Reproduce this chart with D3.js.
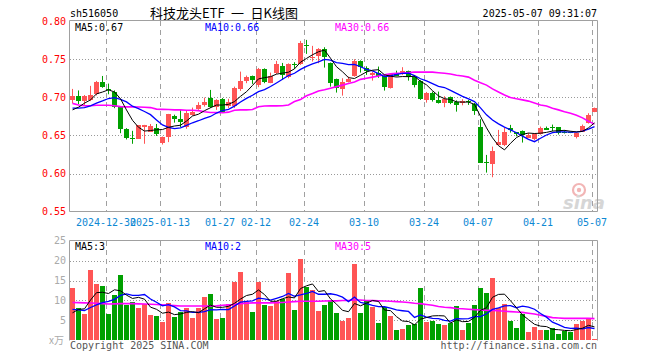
<!DOCTYPE html>
<html><head><meta charset="utf-8">
<script src="https://cdn.jsdelivr.net/npm/d3@7"></script>
<style>html,body{margin:0;padding:0;background:#fff;} svg{display:block}</style>
</head><body>
<svg id="c" width="660" height="360"></svg>
<script>
const dates = [
"2024-12-20","2024-12-23","2024-12-24","2024-12-25","2024-12-26","2024-12-27","2024-12-30","2024-12-31",
"2025-01-02","2025-01-03","2025-01-06","2025-01-07","2025-01-08","2025-01-09","2025-01-10","2025-01-13","2025-01-14","2025-01-15","2025-01-16","2025-01-17","2025-01-20","2025-01-21","2025-01-22","2025-01-23","2025-01-24","2025-01-27",
"2025-02-05","2025-02-06","2025-02-07","2025-02-10","2025-02-11","2025-02-12","2025-02-13","2025-02-14","2025-02-17","2025-02-18","2025-02-19","2025-02-20","2025-02-21","2025-02-24","2025-02-25","2025-02-26","2025-02-27","2025-02-28",
"2025-03-03","2025-03-04","2025-03-05","2025-03-06","2025-03-07","2025-03-10","2025-03-11","2025-03-12","2025-03-13","2025-03-14","2025-03-17","2025-03-18","2025-03-19","2025-03-20","2025-03-21","2025-03-24","2025-03-25","2025-03-26","2025-03-27","2025-03-28","2025-03-31",
"2025-04-01","2025-04-02","2025-04-03","2025-04-07","2025-04-08","2025-04-09","2025-04-10","2025-04-11","2025-04-14","2025-04-15","2025-04-16","2025-04-17","2025-04-18","2025-04-21","2025-04-22","2025-04-23","2025-04-24","2025-04-25","2025-04-28","2025-04-29","2025-04-30",
"2025-05-06","2025-05-07"];

const open = [0.696,0.702,0.695,0.6965,0.704,0.7205,0.7105,0.7075,0.687,0.658,0.647,0.6455,0.661,0.655,0.6594,0.6398,0.6484,0.6752,0.6717,0.6609,0.6769,0.6852,0.690,0.6996,0.687,0.6975,
0.6887,0.6887,0.7106,0.7215,0.728,0.7163,0.7373,0.7194,0.7317,0.7412,0.7272,0.7434,0.7434,0.7681,0.7515,0.7547,0.7635,0.7456,
0.7238,0.7106,0.7206,0.728,0.7478,0.7382,0.7294,0.7324,0.728,0.7128,0.7316,0.7324,0.7345,0.7272,0.7215,0.6966,0.7054,0.6966,0.6923,0.7009,0.6944,
0.692,0.695,0.6913,0.6615,0.6156,0.6122,0.6375,0.6375,0.6602,0.654,0.6559,0.6471,0.6454,0.6516,0.6594,0.6616,0.6607,0.655,0.6545,0.6476,0.655,0.6667,0.6808];
const high = [0.711,0.709,0.703,0.715,0.7215,0.728,0.718,0.709,0.687,0.6595,0.656,0.6634,0.6638,0.665,0.665,0.6485,0.6782,0.6772,0.6835,0.6822,0.6865,0.6936,0.6996,0.7097,0.6975,0.699,
0.698,0.714,0.7337,0.7285,0.7285,0.7385,0.738,0.7324,0.7478,0.7451,0.7445,0.7461,0.774,0.7753,0.7675,0.7645,0.7657,0.7456,
0.7245,0.725,0.7272,0.750,0.7485,0.7407,0.7337,0.7403,0.729,0.7317,0.735,0.7395,0.735,0.7285,0.7225,0.707,0.7075,0.7075,0.7014,0.701,0.696,
0.6975,0.6965,0.6925,0.6712,0.6244,0.6353,0.6572,0.6602,0.6638,0.6545,0.6565,0.6532,0.653,0.6616,0.6616,0.6642,0.661,0.657,0.655,0.6535,0.6642,0.6791,0.6865];
const low = [0.692,0.691,0.690,0.695,0.7025,0.7125,0.704,0.6857,0.6529,0.6447,0.639,0.6454,0.639,0.6545,0.6493,0.638,0.6412,0.6668,0.661,0.6587,0.676,0.6835,0.6878,0.686,0.6835,0.680,
0.686,0.686,0.7084,0.7185,0.7176,0.7133,0.7185,0.7185,0.7304,0.7228,0.725,0.7373,0.7425,0.757,0.7469,0.7447,0.739,0.714,
0.7062,0.7022,0.7195,0.727,0.7324,0.7294,0.7219,0.7255,0.7088,0.7115,0.7275,0.7294,0.7219,0.713,0.6966,0.693,0.6944,0.6918,0.687,0.691,0.6812,
0.6895,0.690,0.6769,0.6143,0.6012,0.5951,0.6371,0.636,0.6537,0.6488,0.6406,0.6465,0.6435,0.651,0.6585,0.6555,0.6512,0.6525,0.653,0.646,0.6545,0.6655,0.6805];
const close = [0.702,0.6945,0.702,0.7035,0.7205,0.714,0.709,0.6878,0.659,0.647,0.6462,0.6634,0.663,0.6625,0.6516,0.648,0.6782,0.6713,0.6677,0.6789,0.6812,0.690,0.6944,0.687,0.6966,0.6812,
0.6944,0.7127,0.7215,0.7268,0.7226,0.7373,0.7206,0.728,0.7434,0.7294,0.7434,0.7425,0.7718,0.7678,0.7535,0.7632,0.7534,0.7185,
0.7119,0.7206,0.7245,0.7478,0.7395,0.7342,0.7317,0.728,0.714,0.7307,0.7285,0.735,0.7272,0.7163,0.6979,0.7054,0.6966,0.693,0.6979,0.693,0.6895,
0.695,0.6935,0.6825,0.6143,0.6143,0.6296,0.6419,0.655,0.6572,0.652,0.6506,0.6506,0.652,0.6594,0.6572,0.6594,0.6529,0.6542,0.6537,0.6529,0.6625,0.6769,0.686];
const volume = [13.2,8.2,6.6,17.6,14.2,13.7,6.6,11.3,16.3,8.8,9.5,8.0,9.0,6.3,6.1,4.6,9.4,5.8,7.2,8.0,5.6,8.0,10.8,11.7,5.3,5.6,
9.2,14.6,17.1,9.7,7.2,14.6,8.8,8.6,9.9,10.3,16.8,7.6,20.3,13.4,12.6,7.3,8.8,9.8,
6.9,4.8,5.6,19.1,6.9,10.1,8.3,4.4,8.3,6.1,2.6,2.8,3.8,4.1,13.2,4.7,4.8,4.1,3.8,4.3,8.6,
2.6,4.4,8.8,13.2,11.9,15.7,8.0,9.1,4.9,3.2,6.6,2.1,3.3,2.6,2.6,3.1,1.7,2.4,2.2,4.1,4.8,5.3,0.4];
const priorCloses = [0.6945,0.694,0.680,0.686,0.685,0.677,0.6755,0.682,0.681];
const priorVolumes = [9.5,8.0,10.0,7.5,8.0,3.95,5.85,6.6,4.9];
const ma30 = [0.692,0.690,0.689,0.689,0.6895,0.6895,0.6895,0.689,0.6878,0.6875,0.6875,0.6872,0.687,0.6865,0.6845,0.6842,0.684,0.6835,0.6835,0.683,0.683,0.6825,0.681,0.680,0.680,0.6798,
0.6805,0.683,0.6835,0.6835,0.684,0.6875,0.6885,0.6887,0.6887,0.689,0.690,0.6944,0.697,0.702,0.705,0.7084,0.710,0.712,
0.714,0.716,0.718,0.720,0.7235,0.725,0.7265,0.728,0.7295,0.731,0.7316,0.7318,0.7325,0.733,0.733,0.733,0.733,0.7322,0.7315,0.7305,0.729,
0.728,0.7265,0.7225,0.719,0.716,0.711,0.707,0.703,0.6996,0.698,0.6966,0.695,0.6925,0.690,0.6885,0.6855,0.6835,0.681,0.679,0.6765,0.673,0.6685,0.6648];
const volMa30 = [9.5,9.45,9.4,9.35,9.3,9.2,9.1,9.15,9.2,9.2,9.2,9.15,9.1,9.05,9.0,8.9,8.8,8.7,8.6,8.6,8.6,8.6,8.6,8.6,8.65,8.8,
8.9,9.0,9.2,9.3,9.4,9.4,9.4,9.4,9.45,9.5,9.6,9.7,9.8,9.8,9.8,9.8,9.85,9.9,
9.9,10.0,10.0,10.1,10.1,10.0,9.95,9.9,9.85,9.8,9.7,9.6,9.5,9.3,9.2,9.0,8.8,8.5,8.3,8.2,8.0,
7.9,7.8,7.7,7.6,7.5,7.5,7.4,7.3,7.2,7.1,7.0,6.8,6.6,6.3,6.0,5.7,5.6,5.5,5.5,5.5,5.5,5.5,5.45];
const tickDates = ["2024-12-30","2025-01-13","2025-01-27","2025-02-12","2025-02-24","2025-03-10","2025-03-24","2025-04-07","2025-04-21","2025-05-07"];
const tickLabels = ["2024-12-30","2025-01-13","01-27","02-12","02-24","03-10","03-24","04-07","04-21","05-07"];
const priceTicks = [0.55,0.60,0.65,0.70,0.75,0.80];
const volTicks = [5,10,15,20,25];

const svg = d3.select("#c");
const mono = "'DejaVu Sans Mono', 'Liberation Mono', monospace";
const UP = "#ff5555", DOWN = "#00a000", GRID = "#a0a0a0";
const L = 70, R = 597;
const x = d3.scaleBand().domain(dates).range([L, R]).paddingInner(1/6).paddingOuter(0);
const y = d3.scaleLinear().domain([0.55, 0.80]).range([211.6, 21.1]);
const vy = d3.scaleLinear().domain([0, 25]).range([340.3, 240.7]);
const bw = x.bandwidth();
const cx = d => x(d) + bw / 2;

function movAvg(prior, arr, n) {
  const all = prior.concat(arr), p = prior.length;
  return arr.map((_, i) => d3.mean(all.slice(p + i - n + 1, p + i + 1)));
}
const ma5 = movAvg(priorCloses, close, 5), ma10 = movAvg(priorCloses, close, 10);
const vma5 = movAvg(priorVolumes, volume, 5), vma10 = movAvg(priorVolumes, volume, 10);

// header
svg.append("text").attr("x", 70).attr("y", 17).attr("font-family", mono).attr("font-size", 10).text("sh516050");
svg.append("text").attr("x", 150).attr("y", 18).attr("font-family", "'Noto Sans CJK SC', sans-serif").attr("font-size", 13).text("科技龙头ETF\u2002一\u2002日K线图");
svg.append("text").attr("x", R).attr("y", 17).attr("text-anchor", "end").attr("font-family", mono).attr("font-size", 10).text("2025-05-07 09:31:07");

// grids main
const gMain = svg.append("g");
gMain.selectAll("line.h").data(priceTicks.filter(v => v > 0.56 && v < 0.79)).join("line")
  .attr("x1", L).attr("x2", R).attr("y1", d => Math.round(y(d)) + 0.5).attr("y2", d => Math.round(y(d)) + 0.5)
  .attr("stroke", "#999").attr("stroke-dasharray", "1,2");
gMain.selectAll("line.v").data(tickDates).join("line")
  .attr("x1", d => x(d) + 0.5).attr("x2", d => x(d) + 0.5).attr("y1", 21).attr("y2", 211)
  .attr("stroke", GRID).attr("stroke-dasharray", "5,4");

// volume grids
const gVol = svg.append("g");
gVol.selectAll("line.h").data(volTicks.filter(v => v < 25)).join("line")
  .attr("x1", L).attr("x2", R).attr("y1", d => Math.round(vy(d)) + 0.5).attr("y2", d => Math.round(vy(d)) + 0.5)
  .attr("stroke", "#999").attr("stroke-dasharray", "1,2");
gVol.selectAll("line.v").data(tickDates).join("line")
  .attr("x1", d => x(d) + 0.5).attr("x2", d => x(d) + 0.5).attr("y1", 241).attr("y2", 340)
  .attr("stroke", GRID).attr("stroke-dasharray", "5,4");

// sina watermark
const wm = svg.append("g");
wm.append("circle").attr("cx", 579).attr("cy", 190).attr("r", 6).attr("fill", "none").attr("stroke", "#f2b5b5").attr("stroke-width", 2.2);
wm.append("circle").attr("cx", 579).attr("cy", 190).attr("r", 2.2).attr("fill", "#f2b5b5");
wm.append("text").attr("x", 563).attr("y", 209).attr("font-family", "'DejaVu Sans', sans-serif").attr("font-size", 18)
  .attr("font-style", "italic").attr("font-weight", "bold").attr("fill", "#d6d6d6").text("sina");

// borders
svg.append("path").attr("d", `M${L-0.5},20.5H${R+0.5}V211.5H${L-0.5}Z`).attr("fill", "none").attr("stroke", GRID);
svg.append("path").attr("d", `M${L-0.5},340.5V240.5H${R+0.5}V340.5`).attr("fill", "none").attr("stroke", GRID);

// price labels
svg.selectAll("text.p").data(priceTicks).join("text")
  .attr("x", 66).attr("y", d => y(d) + 3.5).attr("text-anchor", "end")
  .attr("font-family", mono).attr("font-size", 10).attr("fill", "#ff0000").text(d => d.toFixed(2));
// x labels
svg.selectAll("text.xl").data(tickDates).join("text")
  .attr("x", d => x(d)).attr("y", 225.5).attr("text-anchor", "middle")
  .attr("font-family", mono).attr("font-size", 10).attr("fill", "#0e88d3").text((d, i) => tickLabels[i]);
// vol labels
svg.selectAll("text.vl").data(volTicks).join("text")
  .attr("x", 66).attr("y", d => vy(d) + 3.5).attr("text-anchor", "end")
  .attr("font-family", mono).attr("font-size", 10).attr("fill", "#aaa").text(d => d);
svg.append("text").attr("x", 49).attr("y", 344).attr("font-family", "'Noto Sans CJK SC', sans-serif").attr("font-size", 10).attr("fill", "#aaa").text("x万");

// candles
const idx = d3.range(dates.length);
const up = i => close[i] >= open[i];
const gC = svg.append("g");
gC.selectAll("line").data(idx).join("line")
  .attr("x1", i => cx(dates[i])).attr("x2", i => cx(dates[i]))
  .attr("y1", i => y(high[i])).attr("y2", i => y(low[i]))
  .attr("stroke", i => up(i) ? UP : DOWN).attr("stroke-width", 1);
gC.selectAll("rect").data(idx).join("rect")
  .attr("x", i => x(dates[i])).attr("width", bw)
  .attr("y", i => y(Math.max(open[i], close[i])))
  .attr("height", i => Math.max(1, Math.abs(y(open[i]) - y(close[i]))))
  .attr("fill", i => up(i) ? UP : DOWN).attr("shape-rendering", "crispEdges");

// volume bars
svg.append("g").selectAll("rect").data(idx).join("rect")
  .attr("x", i => x(dates[i])).attr("width", bw)
  .attr("y", i => vy(volume[i])).attr("height", i => vy(0) - vy(volume[i]))
  .attr("fill", i => up(i) ? UP : DOWN).attr("shape-rendering", "crispEdges");

// MA lines
function drawLine(arr, scale, color, w) {
  svg.append("path").datum(arr)
    .attr("d", d3.line().x((d, i) => cx(dates[i])).y(d => scale(d)))
    .attr("fill", "none").attr("stroke", color).attr("stroke-width", w);
}
drawLine(ma30, y, "#ff00ff", 1.6);
drawLine(ma10, y, "#0000ff", 1.3);
drawLine(ma5, y, "#000000", 1);
drawLine(volMa30, vy, "#ff00ff", 1.6);
drawLine(vma10, vy, "#0000ff", 1.3);
drawLine(vma5, vy, "#000000", 1);

// MA legends
const last = a => a[a.length - 1];
const leg = [[75, "#000", "MA5:" + last(ma5).toFixed(2)], [205, "#0000ff", "MA10:" + last(ma10).toFixed(2)], [335, "#ff00ff", "MA30:" + last(ma30).toFixed(2)]];
svg.selectAll("text.lg").data(leg).join("text").attr("x", d => d[0]).attr("y", 31)
  .attr("font-family", mono).attr("font-size", 10).attr("fill", d => d[1]).text(d => d[2]);
const vleg = [[75, "#000", "MA5:" + Math.floor(last(vma5))], [205, "#0000ff", "MA10:" + Math.floor(last(vma10))], [335, "#ff00ff", "MA30:" + Math.floor(last(volMa30))]];
svg.selectAll("text.vlg").data(vleg).join("text").attr("x", d => d[0]).attr("y", 250)
  .attr("font-family", mono).attr("font-size", 10).attr("fill", d => d[1]).text(d => d[2]);

// footer
svg.append("text").attr("x", 70).attr("y", 349).attr("font-family", mono).attr("font-size", 10).attr("fill", "#555").text("Copyright 2025 SINA.COM");
svg.append("text").attr("x", R).attr("y", 349).attr("text-anchor", "end").attr("font-family", mono).attr("font-size", 10).attr("fill", "#555").text("http://finance.sina.com.cn");
</script>
</body></html>
